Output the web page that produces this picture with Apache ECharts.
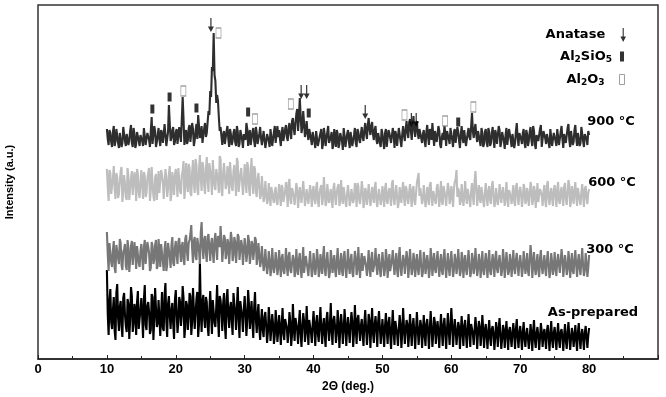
<!DOCTYPE html>
<html><head><meta charset="utf-8">
<script src="https://cdn.jsdelivr.net/npm/echarts@6/dist/echarts.min.js"></script>
<style>html,body{margin:0;padding:0;background:#fff}#c{width:666px;height:397px}</style>
</head><body><div id="c"></div>
<script>
// 2θ sampling: two interleaved sample sets, step 0.25° each
//   "A" arrays at 10.000, 10.250, ... 80.000
//   "B" arrays at 10.125, 10.375, ... 79.875
const START = 10, STEP = 0.25;
const xTicks = [0,10,20,30,40,50,60,70,80];

// Intensities (a.u., offset-stacked)
const i900A = [
230,214,226,212,233,218,228,211,224,216,231,213,227,219,234,212,225,215,229,213,
222,213,230,215,226,212,242,214,228,217,231,213,226,216,233,212,254,218,229,214,
227,215,232,217,262,214,229,218,234,216,230,219,235,244,221,233,218,236,226,248,
268,292,326,278,264,242,232,214,228,216,233,212,225,218,230,213,227,215,231,211,
224,236,213,229,215,231,212,226,217,232,214,228,211,225,218,230,213,227,216,233,
229,213,232,216,234,218,236,220,241,224,245,228,261,226,248,222,238,219,232,214,
226,211,229,214,224,210,231,213,227,216,222,210,230,212,225,215,228,209,223,214,
229,211,226,214,231,212,227,216,232,218,236,220,241,224,237,219,233,215,228,212,
225,210,230,213,226,216,231,211,224,215,229,212,233,218,238,221,240,219,243,222,
238,220,232,216,229,212,234,214,227,236,213,230,216,228,211,226,234,213,229,215,
224,212,230,215,227,211,233,216,228,214,231,219,246,221,235,217,229,213,226,215,
230,212,227,216,232,211,225,214,229,217,226,210,231,215,228,212,224,216,236,213,
227,215,230,211,225,218,232,213,228,210,226,216,234,212,229,215,223,211,231,214,
226,213,229,216,233,211,227,215,235,212,230,217,234,213,228,216,232,212,227,214,
224];
const i900B = [
220,229,217,227,213,230,216,226,212,232,218,225,214,228,216,231,211,227,218,224,
218,231,214,226,219,228,215,233,212,224,220,229,216,235,213,227,236,221,232,217,
230,216,234,219,240,222,215,231,217,236,213,228,220,233,225,216,231,222,226,244,
262,288,284,256,258,228,231,224,215,228,220,230,214,226,217,233,212,229,219,225,
219,230,224,214,227,218,232,215,225,221,213,230,217,226,212,229,220,233,214,222,
220,227,218,230,222,231,226,238,230,236,250,240,244,232,236,228,226,230,220,227,
217,228,213,222,230,215,224,212,233,219,227,214,221,229,211,226,218,231,212,225,
218,227,213,224,216,230,219,225,222,229,226,234,230,233,225,229,219,226,216,230,
217,226,212,229,221,214,225,228,213,231,218,225,224,230,227,236,228,233,230,235,
226,230,221,225,218,227,222,230,219,224,228,217,233,214,222,219,225,228,220,231,
219,227,216,232,218,225,221,229,213,226,222,233,228,230,224,228,218,231,212,227,
217,231,213,226,220,229,215,233,212,227,218,224,214,230,219,225,211,228,221,226,
220,226,216,229,213,227,219,233,215,224,218,230,212,228,221,225,216,230,213,226,
218,230,214,227,220,225,216,231,219,228,214,229,221,226,213,232,218,225,220,228];

const i600A = [
190,158,186,163,193,160,182,165,188,157,184,162,191,159,180,164,187,158,185,161,
189,160,183,166,186,158,192,163,181,159,188,165,184,160,190,162,185,158,187,164,
190,162,193,165,188,160,196,167,191,163,199,166,194,164,204,168,192,165,202,167,
195,164,198,169,192,166,200,163,196,170,193,165,199,168,194,163,197,166,191,164,
195,166,192,163,201,165,190,162,186,160,183,157,178,155,176,153,174,156,172,154,
175,153,171,157,177,152,180,155,173,154,176,151,172,156,178,153,170,155,174,152,
173,155,177,152,171,154,182,153,175,156,170,151,176,154,172,153,179,155,171,152,
174,153,170,156,176,152,173,155,178,151,171,154,175,153,172,156,177,152,170,154,
173,152,176,155,171,153,179,154,174,151,172,156,177,153,170,155,175,152,173,154,
176,186,171,155,174,152,172,154,177,153,170,155,175,152,178,154,171,153,176,155,
173,152,177,189,171,154,175,153,178,155,172,152,176,154,188,153,174,156,171,152,
176,153,173,155,178,152,171,154,175,156,172,153,177,152,170,155,174,153,176,154,
172,152,175,155,171,153,177,154,173,151,176,155,170,153,174,152,178,154,171,153,
174,152,177,155,172,153,176,154,179,152,173,155,177,153,171,154,175,152,173,155,
170];
const i600B = [
172,189,165,181,170,186,161,177,192,168,175,159,183,171,188,163,179,190,166,176,
174,187,162,180,191,169,176,158,185,172,166,189,177,161,182,170,193,165,178,183,
177,191,168,184,198,172,180,195,166,187,175,200,170,189,181,197,173,190,178,196,
181,199,173,190,178,203,169,186,194,175,183,197,172,188,179,201,167,185,193,176,
182,197,171,188,176,193,168,180,172,165,170,162,166,159,164,172,160,168,158,165,
162,174,157,168,165,176,159,171,163,155,169,161,174,158,166,160,172,156,164,168,
160,171,158,166,174,161,168,157,173,163,159,170,162,167,175,158,164,172,157,166,
165,158,172,161,167,176,159,164,170,157,168,162,174,160,166,171,158,163,169,161,
163,170,158,167,162,175,160,166,172,157,164,169,161,173,159,167,162,170,158,166,
178,163,169,160,172,158,166,174,161,168,159,171,163,167,157,173,162,166,170,160,
164,170,180,162,167,158,173,161,166,170,159,168,163,178,171,164,160,172,158,167,
162,168,159,172,164,157,170,161,167,158,173,163,160,169,162,166,158,171,163,167,
165,160,171,158,166,163,172,159,168,162,157,170,164,167,159,173,161,166,160,169,
163,170,158,167,161,172,160,166,174,158,165,169,162,171,159,167,163,170,161,166];

const i300A = [
127,88,114,92,118,86,112,95,116,89,110,93,119,87,113,94,117,90,111,92,
115,89,119,93,112,88,117,95,114,90,120,92,113,88,118,94,116,91,122,93,
118,95,121,97,117,94,124,98,119,134,96,122,99,120,95,137,100,123,97,125,
98,121,96,126,99,122,133,97,124,100,120,95,127,98,122,96,125,99,119,94,
121,97,124,95,118,99,122,94,116,92,113,88,110,85,108,83,111,86,107,84,
109,82,105,85,111,83,107,86,104,82,110,84,106,81,112,85,105,83,108,82,
106,84,110,82,105,85,113,83,107,81,109,86,104,82,111,84,106,83,108,81,
110,85,105,82,108,84,112,81,106,86,104,83,109,82,107,85,111,84,105,82,
107,83,110,81,105,86,109,84,106,82,112,83,104,85,108,81,110,84,106,82,
105,84,109,82,107,85,104,81,111,83,106,86,108,82,105,84,110,81,106,83,
108,82,105,85,110,83,107,81,104,84,109,82,106,85,111,83,105,81,108,84,
106,81,109,84,105,82,108,86,104,83,110,81,107,84,105,82,109,85,106,83,
104,82,108,85,106,83,114,81,107,84,105,82,109,85,104,83,108,81,106,84,
107,83,105,86,110,82,104,84,108,81,106,85,109,82,105,84,111,83,106,82,
104];
const i300B = [
105,116,97,109,91,114,101,120,94,107,115,89,111,99,118,92,106,113,96,108,
101,112,95,117,106,91,113,99,119,93,108,115,97,110,88,116,102,114,96,111,
104,117,108,113,99,120,107,116,125,110,118,103,121,108,126,112,119,105,122,110,
115,106,119,110,123,112,118,108,121,105,116,111,120,104,117,109,122,101,113,107,
112,105,118,103,115,108,119,102,104,98,100,94,97,92,99,90,96,93,98,91,
95,101,88,97,92,103,89,96,100,87,94,99,91,98,86,103,90,96,94,89,
97,92,100,88,95,102,90,98,93,87,101,94,89,99,92,96,88,102,91,95,
93,99,87,96,101,90,94,98,88,103,92,96,90,100,87,97,93,99,89,95,
96,90,101,93,88,99,94,97,89,102,91,95,98,87,100,92,96,90,99,93,
91,98,93,87,100,92,96,89,102,94,90,99,93,97,88,101,92,95,91,98,
94,89,99,92,97,88,101,93,90,98,94,87,100,92,96,90,98,93,89,97,
92,99,88,96,93,101,90,97,94,89,100,92,96,88,98,94,91,99,93,96,
95,90,98,93,88,100,103,94,91,97,89,101,92,96,90,99,94,88,97,92,
90,98,94,88,101,92,96,90,99,93,88,100,94,97,91,99,93,89,96,91];

const iAsPrepA = [
89,24,70,30,62,19,75,28,58,22,66,33,60,20,72,27,55,24,68,31,
61,21,74,29,57,25,65,19,71,32,59,23,67,28,76,22,63,30,56,20,
69,26,62,33,73,21,58,29,66,24,71,30,60,22,97,27,64,31,57,23,
68,25,61,32,74,22,59,28,66,20,70,31,57,24,65,29,72,21,60,27,
63,23,69,30,58,21,67,26,55,19,50,22,47,16,52,18,45,15,49,17,
44,14,51,19,42,16,47,13,55,18,43,15,49,12,46,17,53,14,41,16,
48,13,44,17,52,15,41,12,47,18,56,14,43,16,49,11,45,15,50,13,
42,16,47,12,54,15,44,18,40,13,49,14,45,11,51,16,43,12,48,15,
40,12,46,15,42,10,49,14,38,13,44,11,51,15,39,12,45,13,41,10,
47,14,39,11,44,13,40,10,48,12,42,15,38,11,45,13,41,10,46,14,
51,12,40,14,37,10,43,13,39,11,45,12,36,14,42,10,38,13,44,11,
35,10,39,13,33,9,37,12,41,10,34,11,38,9,32,12,36,10,40,11,
33,9,37,12,31,10,35,8,39,11,32,9,36,12,30,10,34,8,38,11,
32,9,36,11,30,8,35,10,37,9,31,12,34,8,36,10,30,9,33,11,
31];
const iAsPrepB = [
45,58,37,49,28,66,41,52,33,61,44,27,55,39,63,35,48,57,30,50,
42,60,34,53,47,29,62,40,51,36,58,45,31,64,38,55,43,49,35,59,
46,38,57,44,61,32,54,41,63,37,50,45,67,35,52,58,40,62,33,49,
44,59,36,52,41,63,47,55,34,60,43,51,38,66,45,53,39,58,42,50,
47,39,55,43,36,51,40,45,31,38,29,42,33,27,39,30,35,24,37,28,
30,35,26,40,31,28,37,24,34,41,29,36,25,33,38,27,32,39,26,35,
31,36,25,38,29,33,24,40,30,35,27,39,32,26,37,29,34,28,36,30,
28,34,37,26,31,40,29,33,25,36,30,27,38,32,26,35,29,37,31,28,
26,33,29,36,24,31,27,38,25,30,34,26,32,28,35,24,30,33,27,29,
31,26,33,28,24,35,27,30,32,25,36,29,26,31,27,34,25,30,28,33,
34,27,30,25,32,28,26,33,24,30,27,35,25,29,31,26,32,24,30,28,
23,28,21,30,25,22,27,31,24,20,29,26,23,28,21,27,24,30,22,26,
22,27,20,25,29,21,24,28,19,26,23,21,27,24,20,28,22,25,19,26,
21,25,19,27,22,24,18,26,23,20,25,22,19,27,21,24,20,26,22,23];

// Phase markers on the 900 °C pattern: [2θ, height]
const anataseMarks = [[25.1,334],[38.2,267],[39.0,267],[47.5,247],[54.2,239],[54.9,239]];
const al2sio5Marks = [[16.6,250],[19.1,262],[23.0,251],[30.5,247],[39.3,246],[61.0,237]];
const al2o3Marks   = [[26.2,326],[21.1,268],[31.5,240],[36.7,255],[53.2,244],[59.1,238],[63.2,252]];

const seriesNames = ['900 °C','600 °C','300 °C','As-prepared'];

function toXY(a, b){
  const pts = [];
  for (let i = 0; i < a.length; i++){
    pts.push([START + i*STEP, a[i]]);
    if (i < b.length) pts.push([START + STEP/2 + i*STEP, b[i]]);
  }
  return pts;
}

const ARROW = 'path://M3.4,0 L4.6,0 L4.6,9 L7,9 L4,15 L1,9 L3.4,9 Z';
const FONT_B = 'DejaVu Sans';

const chart = echarts.init(document.getElementById('c'), null, {renderer:'canvas'});
const lineS = (name, data, color) => ({
  name, type:'line', data, showSymbol:false, symbol:'none', sampling:null,
  lineStyle:{color, width:2.1}, itemStyle:{color}, animation:false, silent:true, z:2
});
const legText = {
  'Anatase':'{b|Anatase}{g| }',
  'Al2SiO5':'{b|Al}{s|2}{b|SiO}{s|5}{h| }',
  'Al2O3':'{b|Al}{s|2}{b|O}{s|3}{g| }'
};
const rich = {
  b:{fontFamily:FONT_B, fontWeight:'bold', fontSize:13, color:'#000'},
  s:{fontFamily:FONT_B, fontWeight:'bold', fontSize:9, color:'#000', padding:[7,0,0,0]},
  g:{width:10}, h:{width:3}
};
const mkLegend = (name, right, top, icon, w, h, style) => ({
  orient:'vertical', align:'right', right, top, padding:0, itemGap:0,
  itemWidth:w, itemHeight:h, selectedMode:false,
  data:[{name, icon, itemStyle:style}],
  formatter: n => legText[n], textStyle:{rich}
});

chart.setOption({
  animation:false,
  backgroundColor:'#fff',
  grid:{left:38, right:8, top:5, bottom:38, containLabel:false, outerBoundsMode:'none',
    show:true, borderColor:'#333', borderWidth:1.5},
  xAxis:{type:'value', min:0, max:90, interval:10,
    axisLine:{lineStyle:{color:'#222', width:1.5}},
    axisTick:{inside:true, length:4, lineStyle:{color:'#222'}},
    minorTick:{show:true, splitNumber:2, length:3, lineStyle:{color:'#222'}},
    splitLine:{show:false},
    axisLabel:{margin:4, color:'#000', fontFamily:'Liberation Sans', fontWeight:'bold', fontSize:13,
      formatter: v => xTicks.includes(v) ? String(v) : ''},
    name:'2Θ (deg.)', nameLocation:'middle', nameGap:17,
    nameTextStyle:{color:'#000', fontFamily:'Liberation Sans', fontWeight:'bold', fontSize:12}
  },
  yAxis:{type:'value', min:0, max:354, axisLine:{show:false}, axisTick:{show:false},
    axisLabel:{show:false}, splitLine:{show:false},
    name:'Intensity (a.u.)', nameLocation:'middle', nameGap:23, nameRotate:90,
    nameTextStyle:{color:'#000', fontFamily:'Liberation Sans', fontWeight:'bold', fontSize:11}
  },
  legend:[
    mkLegend('Anatase', 40, 28, ARROW, 6, 14, {color:'#000'}),
    mkLegend('Al2SiO5', 42, 50, 'rect', 4, 10, {color:'#000'}),
    mkLegend('Al2O3', 41, 73, 'rect', 5, 10, {color:'#fff', borderColor:'#888', borderWidth:1})
  ],
  series:[
    lineS(seriesNames[3], toXY(iAsPrepA, iAsPrepB), '#000'),
    lineS(seriesNames[2], toXY(i300A, i300B), '#777777'),
    lineS(seriesNames[1], toXY(i600A, i600B), '#bdbdbd'),
    lineS(seriesNames[0], toXY(i900A, i900B), '#2e2e2e'),
    {name:'Anatase', type:'scatter', data:anataseMarks, symbol:ARROW, symbolSize:[6,14],
      itemStyle:{color:'#000'}, z:5, silent:true},
    {name:'Al2SiO5', type:'scatter', data:al2sio5Marks, symbol:'rect', symbolSize:[4,9],
      itemStyle:{color:'#000'}, z:5, silent:true},
    {name:'Al2O3', type:'scatter', data:al2o3Marks, symbol:'rect', symbolSize:[5,10],
      itemStyle:{color:'#fff', borderColor:'#888', borderWidth:1}, z:5, silent:true}
  ],
  graphic:[
    {type:'text', x:611, y:122, style:{text:seriesNames[0], font:'bold 13px "DejaVu Sans"', fill:'#000', align:'center', verticalAlign:'middle'}},
    {type:'text', x:612, y:183, style:{text:seriesNames[1], font:'bold 13px "DejaVu Sans"', fill:'#000', align:'center', verticalAlign:'middle'}},
    {type:'text', x:610, y:250, style:{text:seriesNames[2], font:'bold 13px "DejaVu Sans"', fill:'#000', align:'center', verticalAlign:'middle'}},
    {type:'text', x:593, y:313, style:{text:seriesNames[3], font:'bold 13px "DejaVu Sans"', fill:'#000', align:'center', verticalAlign:'middle'}}
  ]
});
</script></body></html>
